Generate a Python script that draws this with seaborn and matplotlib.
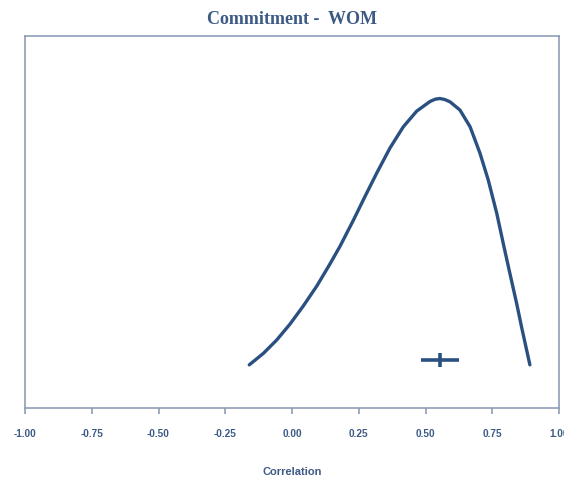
import matplotlib
matplotlib.use("Agg")
import matplotlib.pyplot as plt
import seaborn as sns
import pandas as pd

# Density curve of the correlation
corr_x = [-0.160, -0.107, -0.057, -0.007, 0.042, 0.093, 0.142, 0.180, 0.230, 0.273,
          0.317, 0.367, 0.417, 0.467, 0.517, 0.536, 0.554, 0.573, 0.592, 0.629,
          0.667, 0.704, 0.735, 0.767, 0.791, 0.816, 0.842, 0.860, 0.891]
density = [0.116, 0.147, 0.183, 0.226, 0.274, 0.328, 0.387, 0.435, 0.505, 0.568,
           0.631, 0.699, 0.756, 0.798, 0.824, 0.830, 0.832, 0.829, 0.823, 0.801,
           0.756, 0.685, 0.613, 0.523, 0.443, 0.362, 0.279, 0.217, 0.116]

# Point estimate and interval
estimate = 0.554
ci_low, ci_high = 0.483, 0.626
marker_y = 0.129

tick_values = [-1.00, -0.75, -0.50, -0.25, 0.00, 0.25, 0.50, 0.75, 1.00]
tick_labels = ["-1.00", "-0.75", "-0.50", "-0.25", "0.00", "0.25", "0.50", "0.75", "1.00"]

sns.set_style("white")
line_color = "#2a5081"
spine_color = "#8d9db6"
text_color = "#3d5a85"

fig = plt.figure(figsize=(5.64, 4.80), dpi=100)
ax = fig.add_axes([25/564, 72/480, 534/564, 372/480])

df = pd.DataFrame({"x": corr_x, "y": density})
sns.lineplot(data=df, x="x", y="y", ax=ax, color=line_color, linewidth=2.4,
             estimator=None, sort=False, solid_joinstyle="round",
             solid_capstyle="round")
ax.plot([ci_low, ci_high], [marker_y, marker_y], color=line_color, linewidth=2.6,
        solid_capstyle="butt")
ax.plot([estimate, estimate], [marker_y - 0.019, marker_y + 0.019], color=line_color,
        linewidth=2.6, solid_capstyle="butt")

ax.set_xlim(-1.0, 1.0)
ax.set_ylim(0, 1)
ax.set_yticks([])
ax.set_xticks(tick_values)
ax.set_xticklabels(tick_labels, fontfamily="Liberation Sans", fontweight="bold",
                   fontsize=7.2, color=text_color)
ax.tick_params(axis="x", direction="out", length=4, width=1.2, color=spine_color, pad=11,
               bottom=True)
for s in ax.spines.values():
    s.set_color(spine_color)
    s.set_linewidth(1.2)
    s.set_visible(True)

ax.set_xlabel("")
ax.set_ylabel("")
fig.text(292/564, 1 - 472/480, "Correlation", fontfamily="Liberation Sans",
         fontweight="bold", fontsize=8, color=text_color, ha="center", va="center")
ax.set_title("Commitment -  WOM", fontfamily="Liberation Serif", fontweight="bold",
             fontsize=13, color=text_color, pad=9)

fig.savefig("out.png", dpi=100)
